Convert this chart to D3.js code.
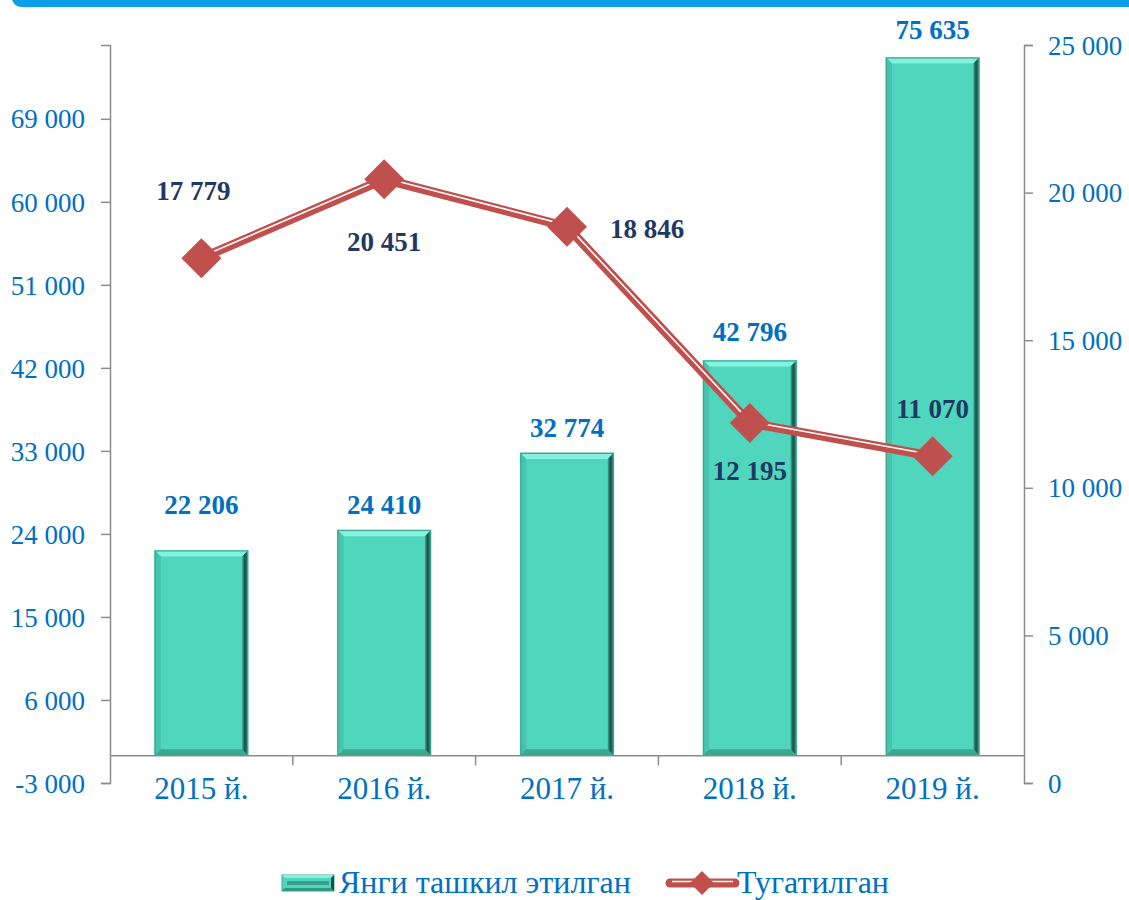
<!DOCTYPE html>
<html><head><meta charset="utf-8">
<script src="https://cdn.jsdelivr.net/npm/d3@7/dist/d3.min.js"></script>
<style>html,body{margin:0;padding:0;background:#fff;}svg{display:block;}</style>
</head><body>
<svg id="c" width="1129" height="900"></svg>
<script>
const categories = ["2015 й.", "2016 й.", "2017 й.", "2018 й.", "2019 й."];
const newFirms = [22206, 24410, 32774, 42796, 75635];
const closedFirms = [17779, 20451, 18846, 12195, 11070];
const leftTicks = [-3000, 6000, 15000, 24000, 33000, 42000, 51000, 60000, 69000];
const rightTicks = [0, 5000, 10000, 15000, 20000, 25000];
const seriesNames = ["Янги ташкил этилган", "Тугатилган"];

// layout constants (label placement, not data)
const barLabelGap = [36, 16, 16, 20, 19];
const lineLabelOffset = [[-8, -58], [0, 72], [80, 11], [0, 57], [0, -38]];

const svg = d3.select("#c");
const fmt = v => (v < 0 ? "-" : "") + d3.format(",")(Math.abs(v)).replace(/,/g, " ");
const serif = "'Liberation Serif','Times New Roman',serif";
const blue = "#0070c0", navy = "#1f3864", red = "#c0504d", axisCol = "#8c8c8c";

// top stripe
svg.append("rect").attr("x", 12).attr("y", -12).attr("width", 1140).attr("height", 19).attr("rx", 9).attr("fill", "#0a9fe6");

const x = d3.scaleBand().domain(categories).range([110, 1024]).paddingInner(0.49).paddingOuter(0.245);
const yL = d3.scaleLinear().domain([-3000, 77000]).range([783, 45]);
const yR = d3.scaleLinear().domain([0, 25000]).range([783, 45]);

// gradient for right bevel
const defs = svg.append("defs");
const g = defs.append("linearGradient").attr("id", "rb").attr("x1", "0").attr("x2", "1").attr("y1", "0").attr("y2", "0");
g.append("stop").attr("offset", "0").attr("stop-color", "#3fb6a0");
g.append("stop").attr("offset", "0.45").attr("stop-color", "#1b4f45");
g.append("stop").attr("offset", "1").attr("stop-color", "#2f8a79");

// bars
const bars = svg.append("g");
newFirms.forEach((v, i) => {
  const x0 = x(categories[i]), x1 = x0 + x.bandwidth();
  const y0 = yL(v), y1 = yL(0);
  const b = 6;
  const gg = bars.append("g");
  gg.append("rect").attr("x", x0).attr("y", y0).attr("width", x1 - x0).attr("height", y1 - y0).attr("fill", "#50d6bd").attr("stroke", "#48b6a1").attr("stroke-width", 1);
  const poly = (pts, fill) => gg.append("polygon").attr("points", pts.map(p => p.join(",")).join(" ")).attr("fill", fill);
  poly([[x0, y0], [x1, y0], [x1 - b, y0 + b], [x0 + b, y0 + b]], "#84f2de");
  poly([[x0, y0], [x0 + b, y0 + b], [x0 + b, y1 - b], [x0, y1]], "#46c4ad");
  poly([[x0, y1], [x1, y1], [x1 - b, y1 - b], [x0 + b, y1 - b]], "#3aa893");
  poly([[x1, y0], [x1, y1], [x1 - b, y1 - b], [x1 - b, y0 + b]], "url(#rb)");
  gg.append("rect").attr("x", x0 + 0.5).attr("y", y0 + 0.5).attr("width", x1 - x0 - 1).attr("height", y1 - y0 - 1).attr("fill", "none").attr("stroke", "#3aa590").attr("stroke-width", 1);
});

// axes
const leftAxis = d3.axisLeft(yL).tickValues(leftTicks).tickSize(9).tickFormat(fmt);
const gl = svg.append("g").attr("transform", "translate(110,0)").call(leftAxis);
const rightAxis = d3.axisRight(yR).tickValues(rightTicks).tickSize(9).tickFormat(fmt);
const gr = svg.append("g").attr("transform", "translate(1024,0)").call(rightAxis);
[gl, gr].forEach(a => {
  a.attr("font-family", serif);
  a.select(".domain").attr("stroke", axisCol).attr("stroke-width", 1.5);
  a.selectAll(".tick line").attr("stroke", axisCol).attr("stroke-width", 1.5);
  a.selectAll(".tick text").attr("fill", blue).attr("font-family", serif).attr("font-size", 27).attr("dy", "0.34em");
});
gl.selectAll(".tick text").attr("x", -25);
gr.selectAll(".tick text").attr("x", 24);

// category axis at zero
const xAxis = d3.axisBottom(x).tickSize(0).tickSizeOuter(0);
const gx = svg.append("g").attr("transform", `translate(0,${yL(0)})`).attr("font-family", serif).call(xAxis);
gx.select(".domain").attr("stroke", axisCol).attr("stroke-width", 1.5);
gx.selectAll(".tick text").attr("fill", blue).attr("font-family", serif).attr("font-size", 31).attr("y", 0).attr("dy", "1.4em");
// boundary ticks
const step = x.step();
d3.range(1, categories.length).forEach(k => {
  const bx = 110 + k * step;
  svg.append("line").attr("x1", bx).attr("x2", bx).attr("y1", yL(0)).attr("y2", yL(0) + 10).attr("stroke", axisCol).attr("stroke-width", 1.5);
});

// bar labels
svg.append("g").selectAll("text").data(newFirms).join("text")
  .attr("x", (d, i) => x(categories[i]) + x.bandwidth() / 2)
  .attr("y", (d, i) => yL(d) - barLabelGap[i])
  .attr("text-anchor", "middle").attr("font-family", serif).attr("font-weight", "bold").attr("font-size", 27).attr("fill", blue)
  .text(fmt);

// line
const cx = i => x(categories[i]) + x.bandwidth() / 2;
const line = d3.line().x((d, i) => cx(i)).y(d => yR(d));
svg.append("path").attr("d", line(closedFirms)).attr("fill", "none").attr("stroke", red).attr("stroke-width", 9).attr("stroke-linejoin", "miter");
svg.append("path").attr("d", line(closedFirms)).attr("fill", "none").attr("stroke", "#fff").attr("stroke-width", 1.6).attr("transform", "translate(0,-1.5)");
const diamond = s => `M0,${-s}L${s},0L0,${s}L${-s},0Z`;
svg.append("g").selectAll("path").data(closedFirms).join("path")
  .attr("d", diamond(20)).attr("transform", (d, i) => `translate(${cx(i)},${yR(d)})`).attr("fill", red);

// line labels
svg.append("g").selectAll("text").data(closedFirms).join("text")
  .attr("x", (d, i) => cx(i) + lineLabelOffset[i][0])
  .attr("y", (d, i) => yR(d) + lineLabelOffset[i][1])
  .attr("text-anchor", "middle").attr("font-family", serif).attr("font-weight", "bold").attr("font-size", 27).attr("fill", navy)
  .text(fmt);

// legend
const lg = svg.append("g");
const ly = 883;
const sx0 = 282, sx1 = 334, sy0 = ly - 8, sy1 = ly + 8, sb = 3;
lg.append("rect").attr("x", sx0).attr("y", sy0).attr("width", sx1 - sx0).attr("height", sy1 - sy0).attr("fill", "#50d6bd").attr("stroke", "#3aa590");
lg.append("polygon").attr("points", `${sx0},${sy0} ${sx1},${sy0} ${sx1 - sb},${sy0 + sb} ${sx0 + sb},${sy0 + sb}`).attr("fill", "#84f2de");
lg.append("polygon").attr("points", `${sx0},${sy1} ${sx1},${sy1} ${sx1 - sb},${sy1 - sb} ${sx0 + sb},${sy1 - sb}`).attr("fill", "#2f9985");
lg.append("polygon").attr("points", `${sx1},${sy0} ${sx1},${sy1} ${sx1 - sb},${sy1 - sb} ${sx1 - sb},${sy0 + sb}`).attr("fill", "#1b4f45");
lg.append("rect").attr("x", sx0 + 5).attr("y", sy0 + 6).attr("width", sx1 - sx0 - 10).attr("height", 4).attr("fill", "#3a9d8a");
lg.append("text").attr("x", 339).attr("y", ly + 10).attr("font-family", serif).attr("font-size", 32).attr("fill", blue).text(seriesNames[0]);
lg.append("line").attr("x1", 670).attr("x2", 735).attr("y1", ly).attr("y2", ly).attr("stroke", red).attr("stroke-width", 9).attr("stroke-linecap", "round");
lg.append("line").attr("x1", 672).attr("x2", 733).attr("y1", ly - 1.5).attr("y2", ly - 1.5).attr("stroke", "#fff").attr("stroke-width", 1.6);
lg.append("path").attr("d", diamond(12)).attr("transform", `translate(702,${ly})`).attr("fill", red);
lg.append("text").attr("x", 737).attr("y", ly + 10).attr("font-family", serif).attr("font-size", 32).attr("fill", blue).text(seriesNames[1]);
</script>
</body></html>
